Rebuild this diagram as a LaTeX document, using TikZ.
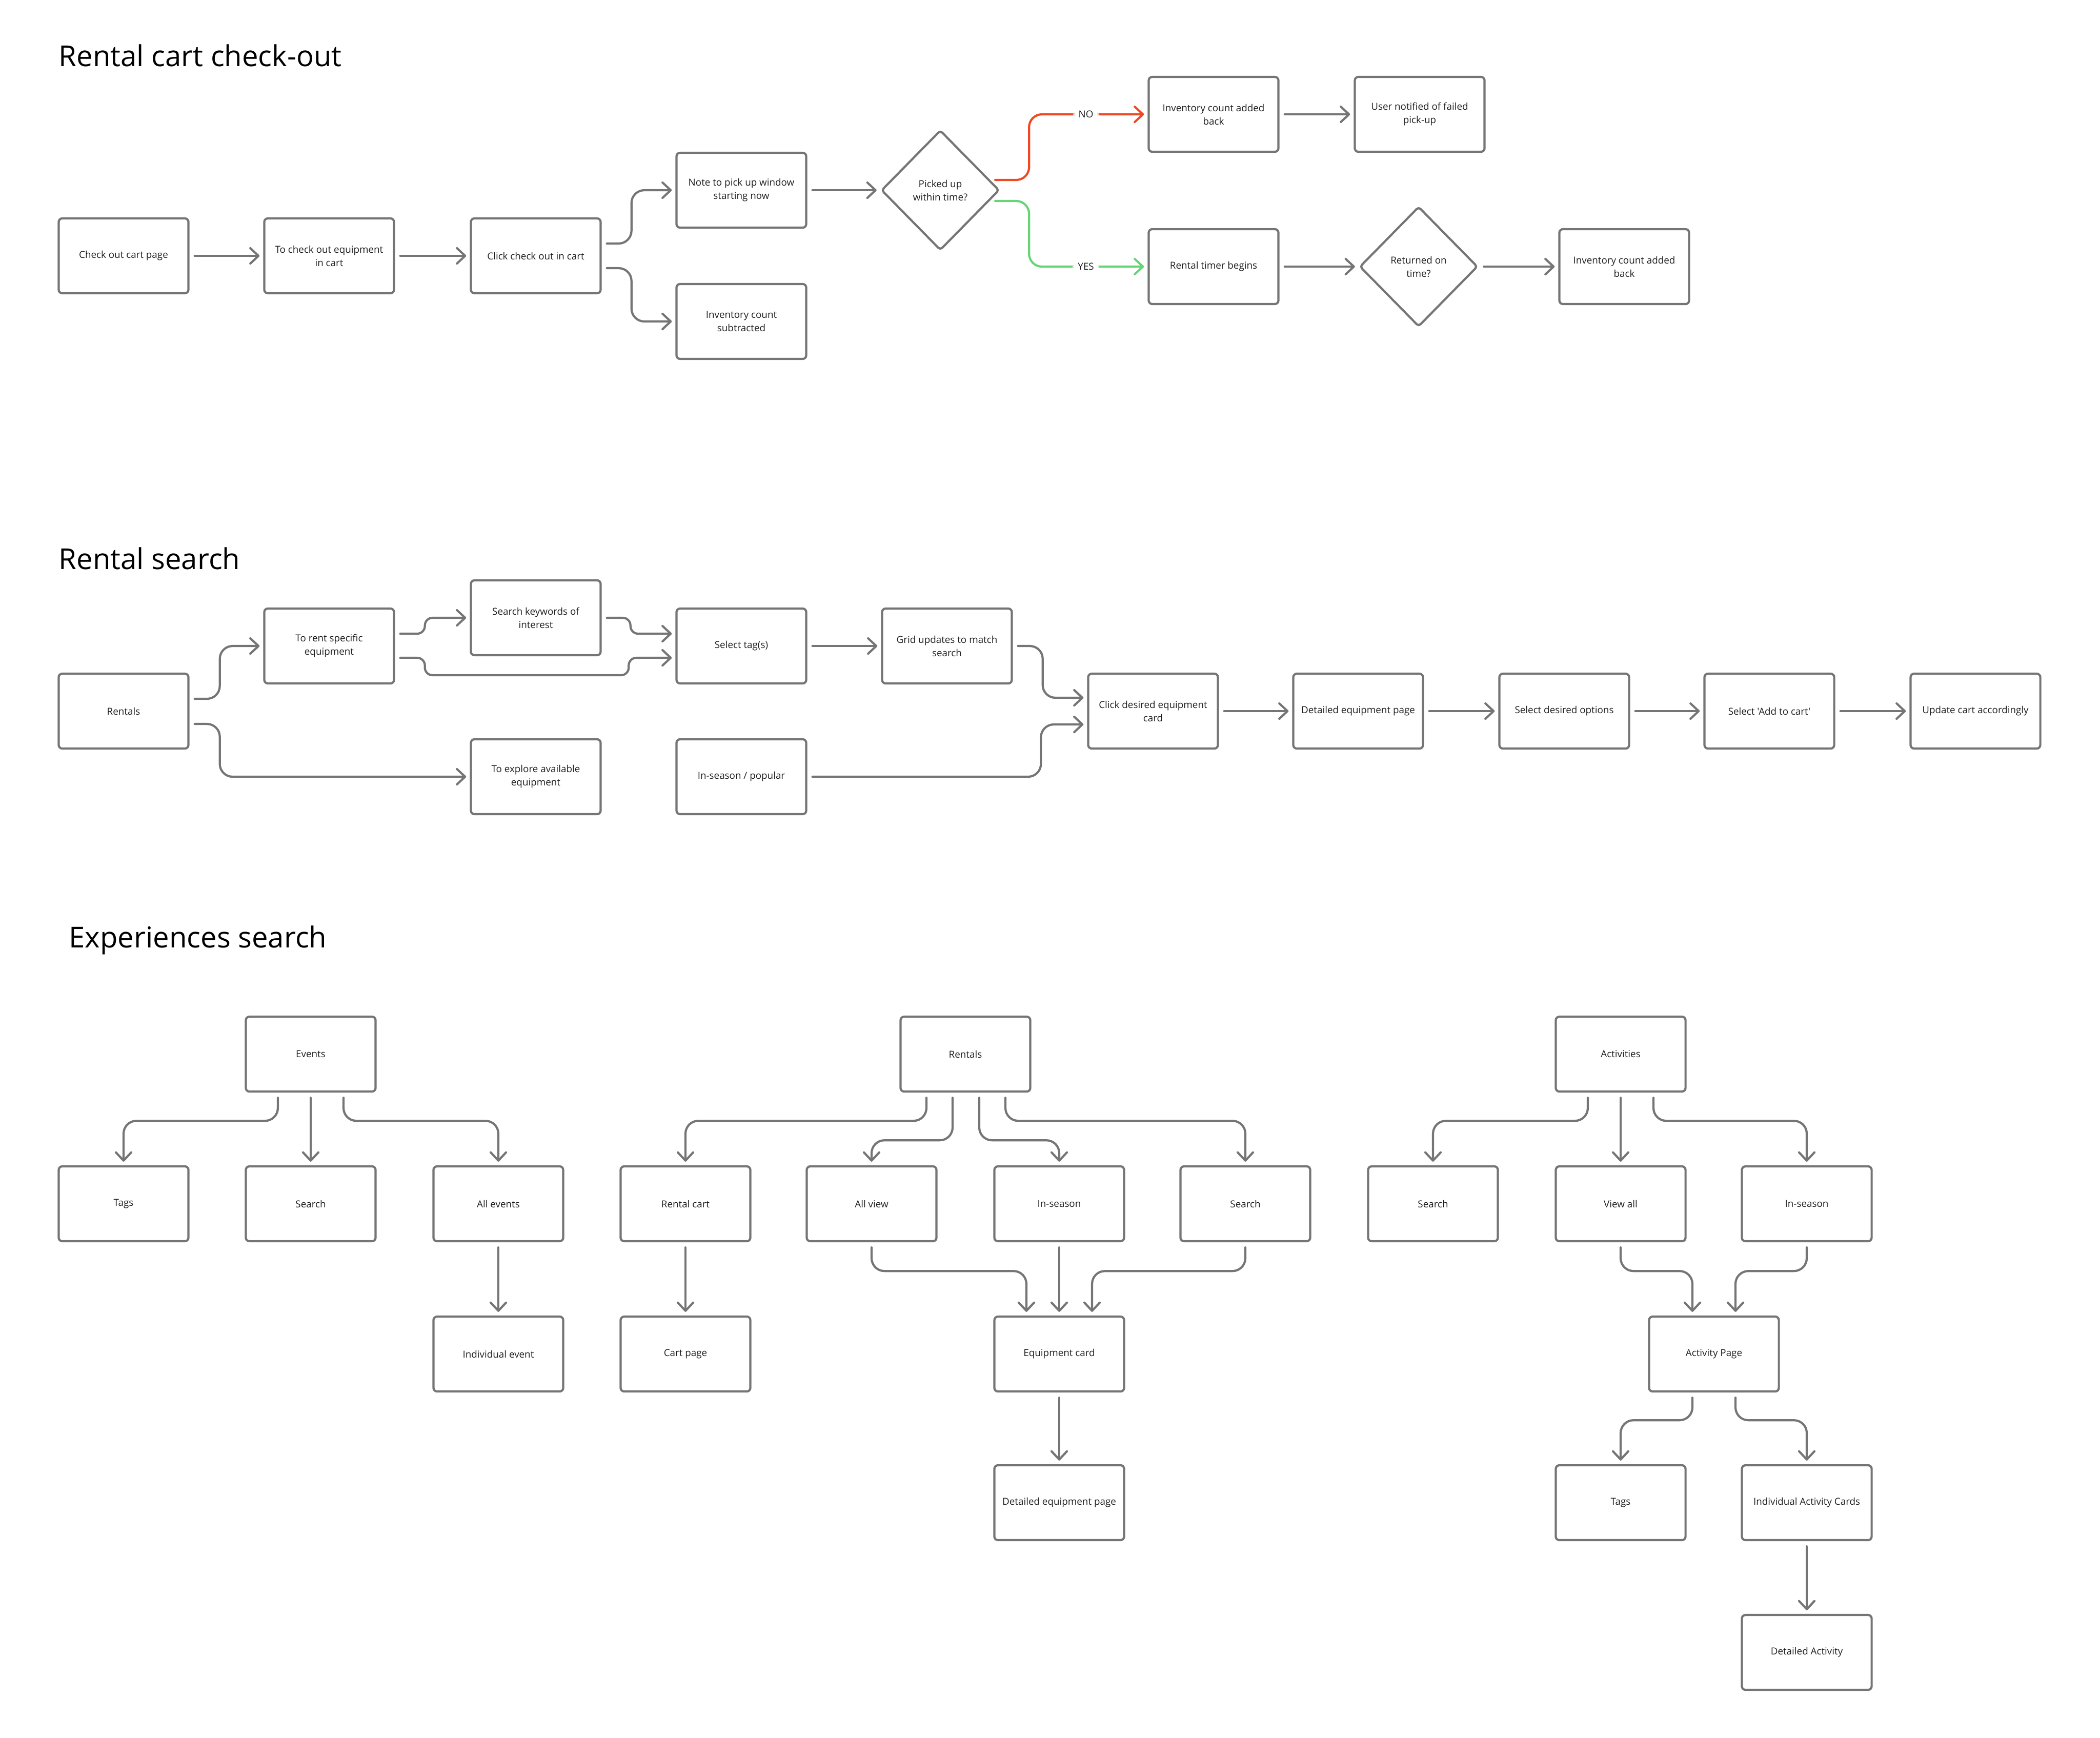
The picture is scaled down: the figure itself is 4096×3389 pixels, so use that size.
\documentclass[tikz,border=0pt]{standalone}
\usepackage{fontspec}
\setmainfont{Open Sans}
\newfontfamily\uifont{Open Sans}
\usetikzlibrary{arrows.meta,shapes.geometric}

\definecolor{linegray}{HTML}{757575}
\definecolor{ink}{HTML}{1E1E1E}
\definecolor{noRed}{HTML}{F24822}
\definecolor{yesGreen}{HTML}{66D575}

\tikzset{
  stepbox/.style={draw=linegray,line width=1.2pt,rounded corners=2pt,minimum width=2.53cm,
    minimum height=1.46cm,inner sep=0pt,align=center,text=ink,font=\uifont\fontsize{5.35}{7.4}\selectfont},
  decision/.style={stepbox,shape=diamond,minimum width=2.3cm,minimum height=2.34cm,rounded corners=1.5pt},
  flow/.style={draw=linegray,line width=1.2pt,line cap=round,->,shorten <=1mm,shorten >=0.7mm,
    rounded corners=2.5mm},
  choice/.style={fill=white,text=ink,inner sep=1mm,font=\uifont\fontsize{5.35}{6}\selectfont},
  heading/.style={anchor=base west,inner sep=0pt,text=black,font=\fontsize{16}{19}\selectfont}
}

\begin{document}
\begin{tikzpicture}[x=0.01cm,y=-0.01cm,>={Straight Barb[length=1.6mm,width=3mm,round]}]
\fill[white] (0,0) rectangle (4096,3389);
\useasboundingbox (0,0) rectangle (4096,3389);

% rental cart check-out
\node[heading] (t1) at (114,129) {Rental cart check-out};
\node[stepbox] (co) at (241,499) {Check out cart page};
\node[stepbox] (toco) at (642,499) {To check out equipment\\in cart};
\node[stepbox] (click) at (1045,499) {Click check out in cart};
\node[stepbox] (note) at (1446,371) {Note to pick up window\\starting now};
\node[stepbox] (invsub) at (1446,627) {Inventory count\\subtracted};
\node[decision] (pick) at (1834,371) {Picked up\\within time?};
\node[stepbox] (invno) at (2367,223) {Inventory count added\\back};
\node[stepbox] (fail) at (2769,223) {User notified of failed\\pick-up};
\node[stepbox] (timer) at (2367,520) {Rental timer begins};
\node[decision] (ret) at (2767,520) {Returned on\\time?};
\node[stepbox] (invback) at (3168,520) {Inventory count added\\back};

\draw[flow] (co.east) -- (toco.west);
\draw[flow] (toco.east) -- (click.west);
\draw[flow] ([yshift=2.4mm]click.east) -- ++(58,0) |- (note.west);
\draw[flow] ([yshift=-2.4mm]click.east) -- ++(58,0) |- (invsub.west);
\draw[flow] (note.east) -- (pick.west);
\draw[flow,noRed,shorten <=0pt] ([xshift=-1mm,yshift=2mm]pick.east) -- ++(66,0) |- (invno.west)
  node[choice,pos=0.74] {NO};
\draw[flow,yesGreen,shorten <=0pt] ([xshift=-1mm,yshift=-2.1mm]pick.east) -- ++(66,0) |- (timer.west)
  node[choice,pos=0.74] {YES};
\draw[flow] (invno.east) -- (fail.west);
\draw[flow] (timer.east) -- (ret.west);
\draw[flow] (ret.east) -- (invback.west);

% rental search
\node[heading] (t2) at (114,1110) {Rental search};
\node[stepbox] (rent) at (241,1387) {Rentals};
\node[stepbox] (spec) at (642,1260) {To rent specific\\equipment};
\node[stepbox] (kw) at (1045,1205) {Search keywords of\\interest};
\node[stepbox] (expl) at (1045,1515) {To explore available\\equipment};
\node[stepbox] (tag) at (1446,1260) {Select tag(s)};
\node[stepbox] (pop) at (1446,1515) {In-season / popular};
\node[stepbox] (grid) at (1847,1260) {Grid updates to match\\search};
\node[stepbox] (card) at (2249,1387) {Click desired equipment\\card};
\node[stepbox] (detail) at (2649,1387) {Detailed equipment page};
\node[stepbox] (opts) at (3051,1387) {Select desired options};
\node[stepbox] (add) at (3451,1387) {Select 'Add to cart'};
\node[stepbox] (upd) at (3853,1387) {Update cart accordingly};

\draw[flow] ([yshift=2.4mm]rent.east) -- ++(59,0) |- (spec.west);
\draw[flow] ([yshift=-2.5mm]rent.east) -- ++(59,0) |- (expl.west);
\draw[flow,rounded corners=1.5mm] ([yshift=2.4mm]spec.east) -- ++(58,0) |- (kw.west);
\draw[flow,rounded corners=1.5mm] ([yshift=-2.3mm]spec.east) -- ++(58,0)
  |- ([xshift=-9.1mm,yshift=-5.7mm]tag.west) |- ([yshift=-2.3mm]tag.west);
\draw[flow,rounded corners=1.5mm] (kw.east) -- ++(56,0) |- ([yshift=2.4mm]tag.west);
\draw[flow] (tag.east) -- (grid.west);
\draw[flow] (grid.east) -- ++(58,0) |- ([yshift=2.6mm]card.west);
\draw[flow] (pop.east) -| ([xshift=-9mm,yshift=-2.6mm]card.west) -- ([yshift=-2.6mm]card.west);
\draw[flow] (card.east) -- (detail.west);
\draw[flow] (detail.east) -- (opts.west);
\draw[flow] (opts.east) -- (add.west);
\draw[flow] (add.east) -- (upd.west);

% experiences search
\node[heading] (t3) at (134,1848) {Experiences search};
\node[stepbox] (ev) at (606,2056) {Events};
\node[stepbox] (evtags) at (241,2348) {Tags};
\node[stepbox] (evsearch) at (606,2348) {Search};
\node[stepbox] (evall) at (972,2348) {All events};
\node[stepbox] (evone) at (972,2641) {Individual event};

\node[stepbox] (rt) at (1883,2056) {Rentals};
\node[stepbox] (rtcart) at (1337,2348) {Rental cart};
\node[stepbox] (rtall) at (1700,2348) {All view};
\node[stepbox] (rtseason) at (2066,2348) {In-season};
\node[stepbox] (rtsearch) at (2429,2348) {Search};
\node[stepbox] (rtpage) at (1337,2641) {Cart page};
\node[stepbox] (rtcard) at (2066,2641) {Equipment card};
\node[stepbox] (rtdetail) at (2066,2931) {Detailed equipment page};

\node[stepbox] (act) at (3161,2056) {Activities};
\node[stepbox] (actsearch) at (2795,2348) {Search};
\node[stepbox] (actall) at (3161,2348) {View all};
\node[stepbox] (actseason) at (3524,2348) {In-season};
\node[stepbox] (actpage) at (3343,2641) {Activity Page};
\node[stepbox] (acttags) at (3161,2931) {Tags};
\node[stepbox] (actcards) at (3524,2931) {Individual Activity Cards};
\node[stepbox] (actdetail) at (3524,3223) {Detailed Activity};

\draw[flow] ([xshift=-6.4mm]ev.south) -- ++(0,55) -| (evtags.north);
\draw[flow] (ev.south) -- (evsearch.north);
\draw[flow] ([xshift=6.4mm]ev.south) -- ++(0,55) -| (evall.north);
\draw[flow] (evall.south) -- (evone.north);

\draw[flow] ([xshift=-7.6mm]rt.south) -- ++(0,55) -| (rtcart.north);
\draw[flow] ([xshift=-2.5mm]rt.south) -- ++(0,93) -| (rtall.north);
\draw[flow] ([xshift=2.7mm]rt.south) -- ++(0,93) -| (rtseason.north);
\draw[flow] ([xshift=7.8mm]rt.south) -- ++(0,55) -| (rtsearch.north);
\draw[flow] (rtcart.south) -- (rtpage.north);
\draw[flow] (rtall.south) -- ++(0,56) -| ([xshift=-6.4mm]rtcard.north);
\draw[flow] (rtseason.south) -- (rtcard.north);
\draw[flow] (rtsearch.south) -- ++(0,56) -| ([xshift=6.4mm]rtcard.north);
\draw[flow] (rtcard.south) -- (rtdetail.north);

\draw[flow] ([xshift=-6.4mm]act.south) -- ++(0,55) -| (actsearch.north);
\draw[flow] (act.south) -- (actall.north);
\draw[flow] ([xshift=6.4mm]act.south) -- ++(0,55) -| (actseason.north);
\draw[flow] (actall.south) -- ++(0,56) -| ([xshift=-4.2mm]actpage.north);
\draw[flow] (actseason.south) -- ++(0,56) -| ([xshift=4.2mm]actpage.north);
\draw[flow] ([xshift=-4.2mm]actpage.south) -- ++(0,54) -| (acttags.north);
\draw[flow] ([xshift=4.2mm]actpage.south) -- ++(0,54) -| (actcards.north);
\draw[flow] (actcards.south) -- (actdetail.north);
\end{tikzpicture}
\end{document}
